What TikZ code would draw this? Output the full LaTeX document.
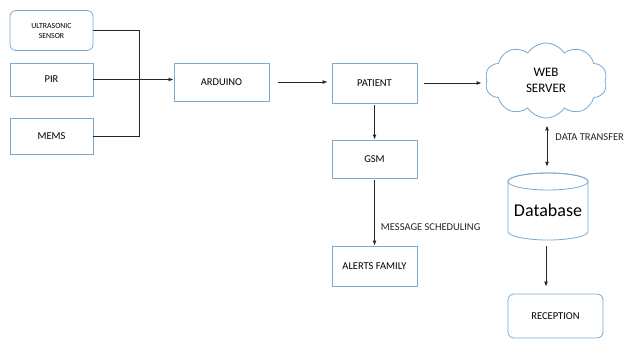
\documentclass[tikz,border=0pt]{standalone}
\usepackage{fontspec}
\setmainfont{Carlito}
\usetikzlibrary{shapes.symbols,arrows.meta}
\definecolor{boxblue}{RGB}{120,170,212}
\tikzset{
  blk/.style={draw=boxblue, line width=0.8pt, fill=white, inner sep=0pt, font=\fontsize{10.5}{12}\selectfont},
  rblk/.style={blk, rounded corners=6pt},
  conn/.style={line width=0.9pt, black!85},
  arr/.style={conn, -{Latex[length=5pt,width=4pt]}},
  darr/.style={conn, {Latex[length=5pt,width=4pt]}-{Latex[length=5pt,width=4pt]}},
  lbl/.style={font=\fontsize{10.5}{12}\selectfont, inner sep=0pt}
}
\begin{document}
\begin{tikzpicture}[x=1pt,y=-1pt]
\useasboundingbox (0,0) rectangle (624,340);
\fill[white] (0,0) rectangle (624,340);
\node[rblk, minimum width=83pt, minimum height=40pt, align=center, font=\fontsize{7.8}{10}\selectfont] (ultra) at (51.5,30.5) {ULTRASONIC\\SENSOR};
\node[blk, minimum width=83pt, minimum height=33pt] (pir) at (51.5,79.5) {PIR};
\node[blk, minimum width=83pt, minimum height=36pt] (mems) at (51.5,136) {MEMS};
\node[blk, minimum width=95pt, minimum height=38pt] (arduino) at (221.5,82) {ARDUINO};
\node[blk, minimum width=85pt, minimum height=40pt] (patient) at (374.5,83) {PATIENT};
\node[blk, minimum width=85pt, minimum height=38pt] (gsm) at (374.5,159) {GSM};
\node[blk, minimum width=85pt, minimum height=40pt] (alerts) at (374.5,266) {ALERTS FAMILY};
\node[cloud, cloud puffs=10, cloud puff arc=115, aspect=1.7, draw=boxblue, line width=0.8pt, minimum width=122pt, minimum height=75pt, inner sep=0pt, align=center, font=\fontsize{13}{16}\selectfont] (cloud) at (546,80.5) {WEB\\SERVER};
\node[rblk, minimum width=95pt, minimum height=44pt] (reception) at (555.5,316) {RECEPTION};
% database cylinder
\node[minimum width=80pt, minimum height=67pt, inner sep=0pt] (db) at (548,206.5) {};
\draw[draw=boxblue, line width=0.8pt, fill=white] (508,181.5) -- (508,231.5) arc[start angle=180, end angle=360, x radius=40, y radius=-8.5] -- (588,181.5) arc[start angle=0, end angle=180, x radius=40, y radius=-8.5];
\draw[draw=boxblue, line width=0.8pt] (548,181.5) ellipse[x radius=40, y radius=8.5];
\node[font=\fontsize{18}{21}\selectfont, inner sep=0pt] at (548,210) {Database};
% connectors
\coordinate (bus) at (139,0);
\draw[conn] (ultra.east) -| (bus |- mems.east) -- (mems.east);
\draw[arr] (pir.east) -- (pir.east -| arduino.west);
\draw[arr, shorten <=9pt, shorten >=4pt] (arduino.east) -- (arduino.east -| patient.west);
\draw[arr, shorten <=7pt, shorten >=5pt] (patient.east) -- (patient.east -| cloud.west);
\draw[arr, shorten <=2pt] (patient.south) -- (gsm.north);
\draw[arr, shorten <=2pt] (gsm.south) -- node[lbl, right=6pt, pos=0.72] {MESSAGE SCHEDULING} (alerts.north);
\draw[darr, shorten <=7pt, shorten >=6pt] ([xshift=1pt]cloud.south) -- node[lbl, right=8pt, pos=0.35] {DATA TRANSFER} ([xshift=1pt]cloud.south |- db.north);
\draw[arr, shorten <=6pt, shorten >=7pt] ([xshift=-2pt]db.south) -- ([xshift=-2pt]db.south |- reception.north);
\end{tikzpicture}
\end{document}
